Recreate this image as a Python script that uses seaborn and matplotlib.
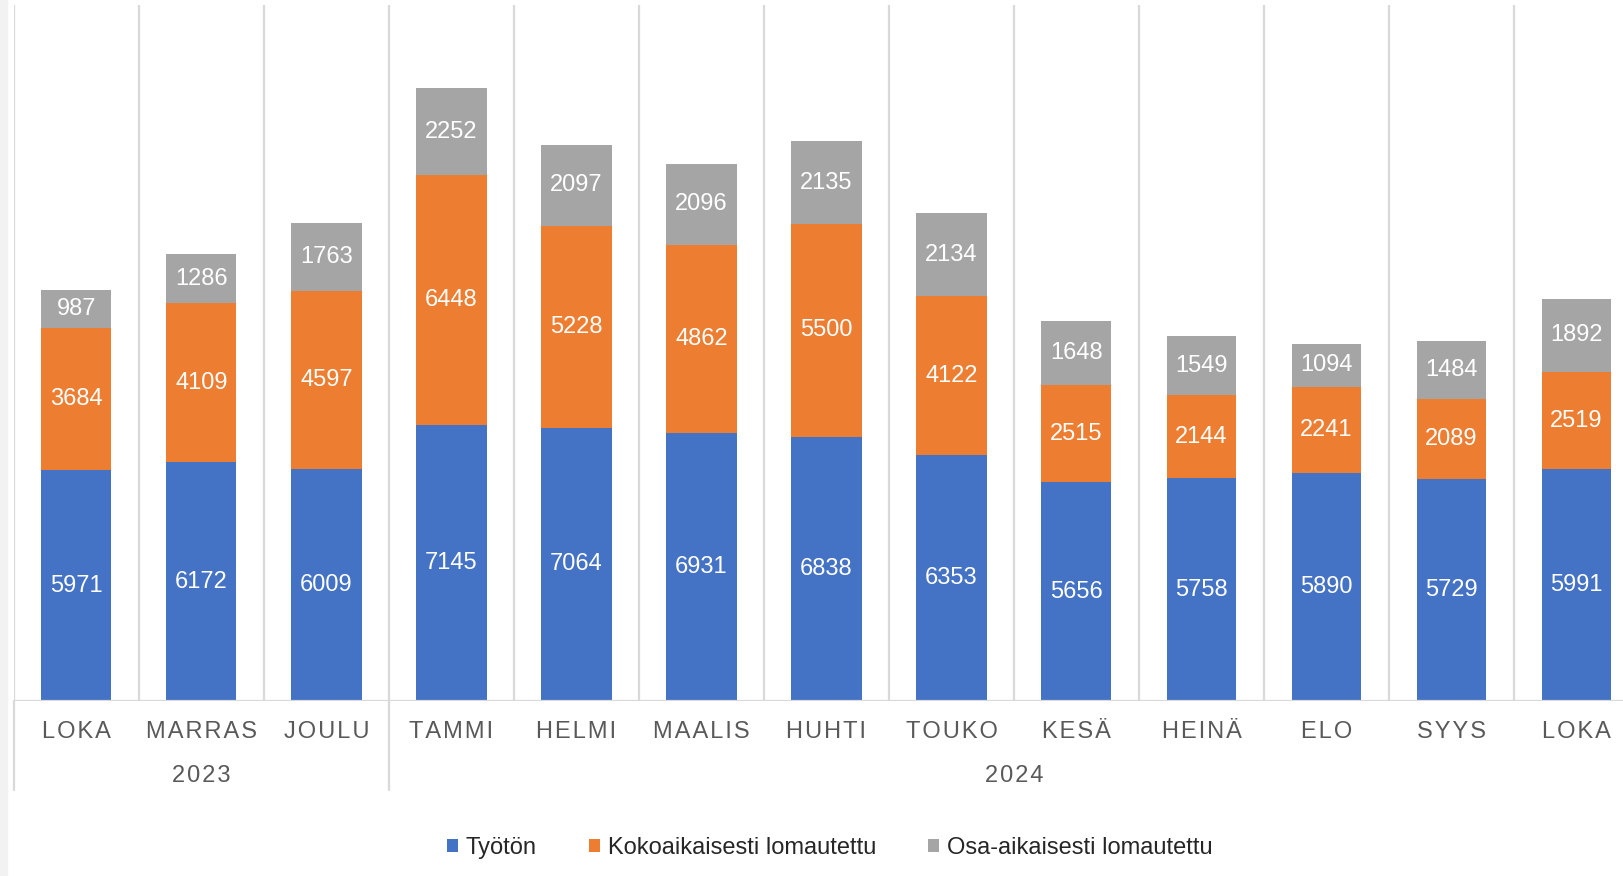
import numpy as np
import pandas as pd
import matplotlib
matplotlib.use("Agg")
import matplotlib.pyplot as plt
from matplotlib.patches import Patch, Rectangle
import matplotlib.transforms as mtransforms
import seaborn as sns

# ---- data ----
months = ["LOKA", "MARRAS", "JOULU", "TAMMI", "HELMI", "MAALIS", "HUHTI",
          "TOUKO", "KESÄ", "HEINÄ", "ELO", "SYYS", "LOKA"]
years = ["2023"] * 3 + ["2024"] * 10
tyoton = [5971, 6172, 6009, 7145, 7064, 6931, 6838, 6353, 5656, 5758, 5890, 5729, 5991]
kokoaik = [3684, 4109, 4597, 6448, 5228, 4862, 5500, 4122, 2515, 2144, 2241, 2089, 2519]
osaaik = [987, 1286, 1763, 2252, 2097, 2096, 2135, 2134, 1648, 1549, 1094, 1484, 1892]
series_names = ["Työtön", "Kokoaikaisesti lomautettu", "Osa-aikaisesti lomautettu"]
year_labels = ["2023", "2024"]

colors = ["#4472C4", "#ED7D31", "#A5A5A5"]
grid_c = "#D9D9D9"
txt_c = "#595959"

sns.set_theme(style="white")
plt.rcParams["font.family"] = ["Liberation Sans", "DejaVu Sans"]

keys = [f"{m}_{y}" for m, y in zip(months, years)]
df = pd.DataFrame({"key": keys, "t": tyoton, "k": kokoaik, "o": osaaik})
df["tk"] = df["t"] + df["k"]
df["tko"] = df["tk"] + df["o"]

W, H = 1624, 876
fig = plt.figure(figsize=(W / 100, H / 100), dpi=100)
fig.patch.set_facecolor("white")
fig.patches.append(Rectangle((0, 0), 7 / W, 1, transform=fig.transFigure,
                             color="#F2F2F2", zorder=0))

ax_l, ax_r, ax_t, ax_b = 14, 1639, 5, 701
ax = fig.add_axes([ax_l / W, (H - ax_b) / H, (ax_r - ax_l) / W, (ax_b - ax_t) / H])
ax.set_facecolor("none")

bw = 0.56
for col, c in [("tko", colors[2]), ("tk", colors[1]), ("t", colors[0])]:
    sns.barplot(data=df, x="key", y=col, order=keys, color=c, width=bw,
                saturation=1, ax=ax, zorder=3, linewidth=0, edgecolor="none")

n = len(keys)
ax.set_xlim(-0.5, n - 0.5)
ax.set_ylim(0, 18000)
for s in ax.spines.values():
    s.set_visible(False)
ax.set_yticks([])
ax.set_xlabel("")
ax.set_ylabel("")

# vertical separators
for b in np.arange(-0.5, n, 1.0):
    ax.axvline(b, color=grid_c, lw=1.6, zorder=1)
ax.axhline(0, color=grid_c, lw=1.6, zorder=4)

# separators extending below axis between year groups
for b in [-0.5, 2.5, n - 0.5]:
    ax.plot([b, b], [0, -2300], color=grid_c, lw=1.6, clip_on=False, zorder=1)

# month tick labels with letter spacing
ax.set_xticks(range(n))
ax.set_xticklabels(["\u200a".join(m) for m in months], color=txt_c, fontsize=17)
ax.tick_params(axis="x", length=0, pad=14.5)

# year labels
trans = mtransforms.blended_transform_factory(ax.transData, ax.transAxes)
yr_y = (ax_b - 782) / (ax_b - ax_t)
for lab, cx in zip(year_labels, [1.0, 7.5]):
    ax.text(cx, yr_y, "\u200a".join(lab), transform=trans, ha="center", va="baseline",
            fontsize=17, color=txt_c)

# data labels
for i in range(n):
    segs = [(0, tyoton[i]), (tyoton[i], kokoaik[i]), (tyoton[i] + kokoaik[i], osaaik[i])]
    for b0, v in segs:
        ax.text(i, b0 + v / 2, f"{v}", ha="center", va="center", color="white",
                fontsize=17, zorder=5)

handles = [Patch(facecolor=c, edgecolor="none") for c in colors]
fig.legend(handles, series_names, loc="center", bbox_to_anchor=(0.511, (H - 848) / H),
           ncol=3, frameon=False, fontsize=17, handlelength=0.46, handleheight=0.46,
           handletextpad=0.35, columnspacing=2.2, labelcolor="#262626")

fig.savefig("out.png", dpi=100, facecolor="white")
